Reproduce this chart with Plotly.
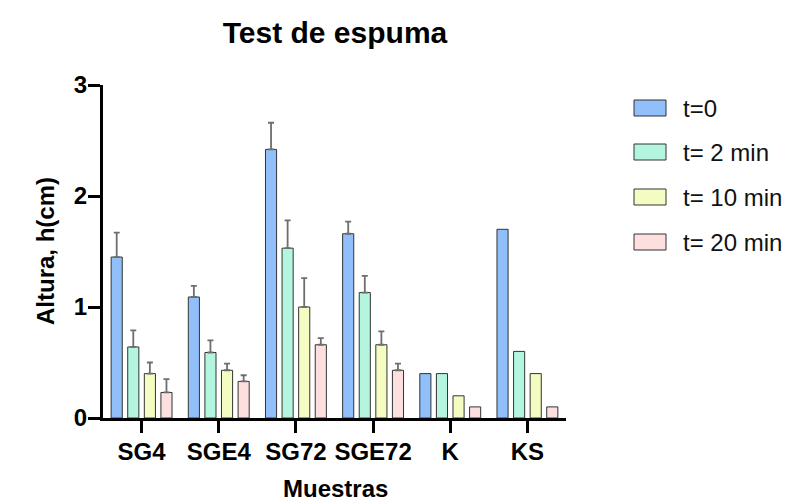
import plotly.graph_objects as go

# Foam test: foam height (cm) per sample at four times
muestras = ["SG4", "SGE4", "SG72", "SGE72", "K", "KS"]
series_names = ["t=0", "t= 2 min", "t= 10 min", "t= 20 min"]

h_t0 = [1.45, 1.09, 2.42, 1.66, 0.40, 1.70]
h_t2 = [0.64, 0.59, 1.53, 1.13, 0.40, 0.60]
h_t10 = [0.40, 0.43, 1.00, 0.66, 0.20, 0.40]
h_t20 = [0.23, 0.33, 0.66, 0.43, 0.10, 0.10]

# upper error (SD); K and KS have none
err_t0 = [0.22, 0.10, 0.24, 0.11, None, None]
err_t2 = [0.15, 0.11, 0.25, 0.15, None, None]
err_t10 = [0.10, 0.06, 0.26, 0.12, None, None]
err_t20 = [0.12, 0.055, 0.06, 0.06, None, None]

y_ticks = [0, 1, 2, 3]

colors = ["#90BFF9", "#B3F5DE", "#F5FCC1", "#FDDFE0"]
values = [h_t0, h_t2, h_t10, h_t20]
errors = [err_t0, err_t2, err_t10, err_t20]

W, H = 792, 502
ML, MR, MT, MB = 103, 226, 85, 84
FONT = "Liberation Sans, Arial, sans-serif"


def px_x(x):
    return (x - ML) / (W - ML - MR)


def px_y(y):
    return (H - MB - y) / (H - MT - MB)


fig = go.Figure()
for name, vals, errs, col in zip(series_names, values, errors, colors):
    # only samples with a measured deviation get an error bar
    upper = [e for e in errs if e is not None]
    fig.add_trace(go.Bar(
        x=muestras, y=vals, name=name,
        marker=dict(color=col, line=dict(color="#333333", width=1)),
        error_y=dict(type="data", array=upper, symmetric=False,
                     color="#6e6e6e", thickness=1.8, width=3),
        showlegend=False,
    ))

# legend: swatch + label per series
legend_rows = [108, 152, 197, 242]
shapes = []
annotations = []
for name, col, yc in zip(series_names, colors, legend_rows):
    shapes.append(dict(type="rect", xref="paper", yref="paper",
                       x0=px_x(634), x1=px_x(666),
                       y0=px_y(yc + 8), y1=px_y(yc - 8),
                       fillcolor=col, line=dict(color="#333333", width=1)))
    annotations.append(dict(text=name, xref="paper", yref="paper",
                            x=px_x(681), y=px_y(yc), xanchor="left",
                            yanchor="middle", showarrow=False,
                            font=dict(family=FONT, size=24, color="#111111")))

annotations.append(dict(text="Altura, h(cm)", xref="paper", yref="paper",
                        x=px_x(45), y=px_y(251), textangle=-90,
                        xanchor="center", yanchor="middle", showarrow=False,
                        font=dict(family=FONT, size=24, color="#000000",
                                  weight="bold")))
annotations.append(dict(text="Muestras", xref="paper", yref="paper",
                        x=px_x(335), y=px_y(488), xanchor="center",
                        yanchor="middle", showarrow=False,
                        font=dict(family=FONT, size=24, color="#000000",
                                  weight="bold")))

fig.update_layout(
    width=W, height=H, autosize=False,
    margin=dict(l=ML, r=MR, t=MT, b=MB),
    plot_bgcolor="white", paper_bgcolor="white",
    barmode="group", bargap=0.14, bargroupgap=0.33,
    title=dict(text="Test de espuma", x=335 / W, xref="container",
               xanchor="center", y=(H - 32) / H, yref="container",
               yanchor="middle",
               font=dict(family=FONT, size=30, color="#000000",
                         weight="bold")),
    xaxis=dict(range=[-0.5, 5.5], showline=True, linecolor="#000000",
               linewidth=3, ticks="outside", ticklen=12, tickwidth=3,
               tickcolor="#000000", showgrid=False, zeroline=False,
               ticklabelstandoff=-2,
               tickfont=dict(family=FONT, size=24, color="#000000",
                             weight="bold")),
    yaxis=dict(range=[0, 3], tickvals=y_ticks, showline=True,
               linecolor="#000000", linewidth=3, ticks="outside",
               ticklen=12, tickwidth=3, tickcolor="#000000",
               showgrid=False, zeroline=False, ticklabelstandoff=-4,
               tickfont=dict(family=FONT, size=24, color="#000000",
                             weight="bold")),
    shapes=shapes,
    annotations=annotations,
)

fig.write_html("out.html")
